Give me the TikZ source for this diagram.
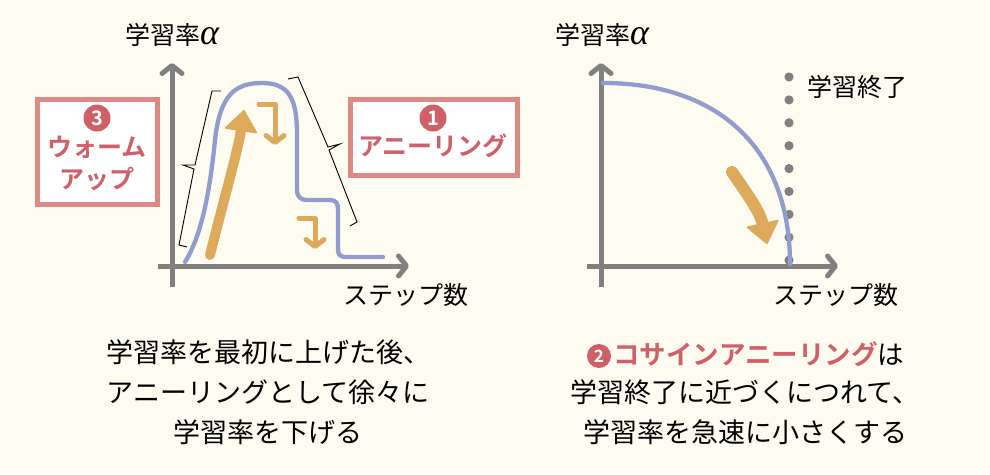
\documentclass[tikz,border=0pt]{standalone}
\usepackage{fontspec}
\setmainfont{Noto Sans CJK JP}[BoldFont={Noto Sans CJK JP Bold}]
\newfontfamily\alphafont{Liberation Serif}
\usetikzlibrary{arrows.meta}
\definecolor{bgcream}{RGB}{254,252,240}
\definecolor{axisgray}{RGB}{128,128,128}
\definecolor{curveblue}{RGB}{146,156,205}
\definecolor{warmorange}{RGB}{221,170,92}
\definecolor{boxpink}{RGB}{221,138,132}
\definecolor{numred}{RGB}{207,96,104}
\begin{document}
\begin{tikzpicture}[x=1pt,y=-1pt,
  axis/.style={draw=axisgray, line width=5pt, -{Straight Barb[length=8pt,width=20pt,round]}},
  bluecurve/.style={draw=curveblue, line width=4.3pt, line join=round, line cap=round},
  bigarrow/.style={draw=warmorange, line cap=round, -{Triangle[length=22pt,width=34pt,line width=2pt,round]}},
  steparrow/.style={draw=warmorange, line width=5pt, line cap=round, line join=round, -{Straight Barb[length=7pt,width=18pt,round]}},
  bracket/.style={draw=black, line width=0.9pt, line join=miter},
  pinkbox/.style={draw=boxpink, line width=5pt, fill=white},
  numcirc/.style={circle, fill=numred, text=white, inner sep=0pt, minimum size=27pt, font=\fontsize{20}{20}\selectfont\bfseries},
  redlabel/.style={text=numred, inner sep=0pt, font=\fontsize{25}{25}\selectfont\bfseries},
  axlabel/.style={inner sep=0pt, font=\fontsize{25}{25}\selectfont},
  bodytext/.style={align=center, inner sep=0pt, font=\fontsize{27}{40}\selectfont}]
\fill[bgcream] (0,0) rectangle (990,474);

% ---------- left chart ----------
\coordinate (ly0) at (172,287);
\coordinate (ly1) at (172,63);
\coordinate (lx0) at (158,266);
\coordinate (lx1) at (409,266);
\draw[axis] (ly0) -- (ly1);
\draw[axis] (lx0) -- (lx1);

\draw[bluecurve] (185,262) .. controls (202,235) and (210,190) .. (215,140)
  .. controls (220,95) and (235,83) .. (262,83)
  .. controls (290,83) and (297,100) .. (297,135)
  -- (297,189) .. controls (297,197) and (300,200) .. (308,200)
  -- (330,200) .. controls (336,200) and (338,203) .. (338,210)
  -- (338,249) .. controls (338,255) and (340,257) .. (347,257)
  -- (383,257);

\draw[bigarrow, line width=10pt] (210,255) .. controls (225,195) and (238,150) .. (244,110);
\draw[steparrow] (259,104) -- (275,104) -- (275,145);
\draw[steparrow] (299,218) -- (315,218) -- (315,249);

\draw[bracket] (221,91) -- (212,91) -- (195,165) -- (183,165) -- (194,169) -- (179,245) -- (187,247);
\draw[bracket] (288,79) -- (298,77) -- (328,147) -- (340,144) -- (329,150) -- (357,222) -- (350,226);

\node[pinkbox, minimum width=120pt, minimum height=105pt] (box3) at (97.5,152) {};
\node[numcirc] (n3) at (97,118) {3};
\node[redlabel] (warm1) at (97,147) {ウォーム};
\node[redlabel] (warm2) at (97,179) {アップ};

\node[pinkbox, minimum width=167pt, minimum height=76pt] (box1) at (434,137.5) {};
\node[numcirc] (n1) at (433,118) {1};
\node[redlabel] (anneal) at (433,146) {アニーリング};

\node[axlabel] (lyl) at (172,35) {学習率{\alphafont\itshape\fontsize{36}{36}\selectfont α}};
\node[axlabel] (lxl) at (406,295) {ステップ数};

% ---------- right chart ----------
\coordinate (ry0) at (601,287);
\coordinate (ry1) at (601,63);
\coordinate (rx0) at (587,266);
\coordinate (rx1) at (838,266);
\draw[axis] (ry0) -- (ry1);
\draw[axis] (rx0) -- (rx1);

\foreach \k in {0,...,8} \fill[axisgray] (789,{77+\k*22.9}) circle[radius=4.6pt];

\draw[bluecurve] (603,83) .. controls (720,83) and (790,150) .. (790,264);

\draw[bigarrow, line width=12pt] (732,172) .. controls (748,195) and (760,212) .. (767,244);

\node[axlabel] (endl) at (857,87) {学習終了};
\node[axlabel] (ryl) at (602,35) {学習率{\alphafont\itshape\fontsize{36}{36}\selectfont α}};
\node[axlabel] (rxl) at (836,295) {ステップ数};

% ---------- captions ----------
\node[bodytext] (capL) at (268,392) {学習率を最初に上げた後、\\アニーリングとして徐々に\\学習率を下げる};
\node[bodytext] (capR) at (745,412) {学習終了に近づくにつれて、\\学習率を急速に小さくする};
\node[numcirc, minimum size=24pt, font=\fontsize{17}{17}\selectfont\bfseries] (n2) at (599,356) {2};
\node[anchor=west, inner sep=0pt, font=\fontsize{26.5}{26.5}\selectfont] (capR1) at (613,354) {\textcolor{numred}{\bfseries コサインアニーリング}は};
\end{tikzpicture}
\end{document}
